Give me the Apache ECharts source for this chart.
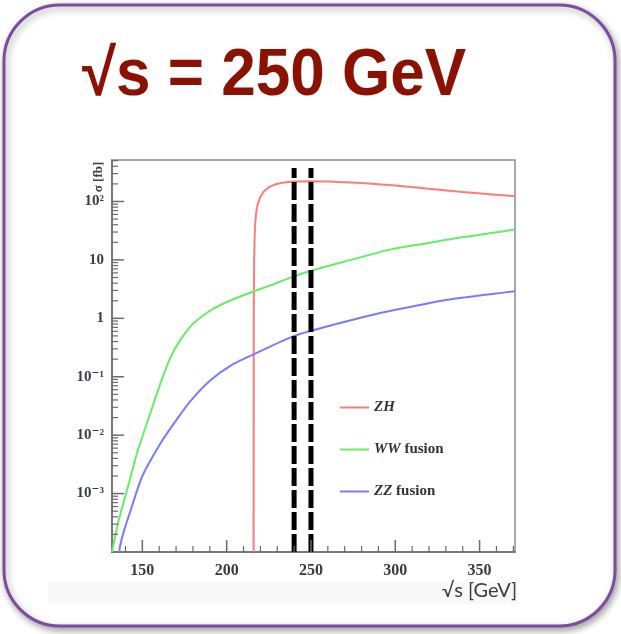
<!DOCTYPE html>
<html><head><meta charset="utf-8">
<script src="https://cdn.jsdelivr.net/npm/echarts@6/dist/echarts.min.js"></script>
<style>html,body{margin:0;padding:0;background:#fff;}#c{width:621px;height:634px;}</style>
</head><body><div id="c"></div>
<script>
// ---- data (sqrt(s) in GeV, sigma in fb) ----
const zhS     = [216.0, 216.05, 216.3, 216.6, 217.0, 217.6, 218.5, 220, 222, 225, 229, 234, 240, 250, 260, 280, 300, 320, 340, 360, 371];
const zhSigma = [0.0001, 1, 10, 25, 45, 68, 92, 120, 148, 175, 198, 212, 220, 222, 220, 207, 188, 165, 145, 130, 123];
const wwS     = [132, 133.2, 136.2, 141.1, 147, 154.9, 160.8, 166.7, 172.6, 178.5, 184.5, 190.4, 196.3, 202.2, 208.1, 215.8, 225.8, 238.7, 249.5, 270, 297, 320, 336.7, 355, 371];
const wwSigma = [0.0001, 0.00015, 0.00037, 0.0012, 0.0051, 0.0245, 0.078, 0.215, 0.428, 0.728, 1.035, 1.36, 1.69, 2.02, 2.36, 2.88, 3.66, 5.08, 6.44, 9.4, 15, 19.5, 23.7, 28.3, 33];
const zzS     = [136.3, 136.8, 139.1, 143.7, 150, 160.8, 169.7, 178.5, 190.4, 202.2, 216, 237.6, 249.5, 273.1, 296.7, 332.2, 371];
const zzSigma = [0.0001, 0.000128, 0.00023, 0.00059, 0.002, 0.0073, 0.0174, 0.0382, 0.087, 0.154, 0.242, 0.467, 0.605, 0.92, 1.33, 2.1, 2.91];
const markS = [240, 250];            // vertical dashed markers
const markSigma = [0.0001, 376];      // vertical extent of the markers
const xMajorTicks = [150, 200, 250, 300, 350];
const xMinorTicks = [140, 160, 170, 180, 190, 210, 220, 230, 240, 260, 270, 280, 290, 310, 320, 330, 340, 360, 370];
const yMajorTicks = [0.001, 0.01, 0.1, 1, 10, 100];
const yTickLabels = ['10⁻³', '10⁻²', '10⁻¹', '1', '10', '10²'];
const yDecades = [0.0001, 0.001, 0.01, 0.1, 1, 10, 100];
const yMultipliers = [2, 3, 4, 5, 6, 7, 8, 9];
const legendNames = ['ZH', 'WW fusion', 'ZZ fusion'];

const XMIN = 132, XMAX = 371, YMIN = 0.0001, YMAX = 513;
const yMinorTicks = [];
yDecades.forEach(d => yMultipliers.forEach(m => { const v = +(d * m).toPrecision(6); if (v <= YMAX) yMinorTicks.push(v); }));
const pairs = (xs, ys) => xs.map((x, i) => [x, ys[i]]);
const yLabelOf = v => { let best = 0, bd = 1e9; yMajorTicks.forEach((t, i) => { const d = Math.abs(Math.log10(v) - Math.log10(t)); if (d < bd) { bd = d; best = i; } }); return bd < 0.01 ? yTickLabels[best] : ''; };

// tick marks: [x, y, length, orientation(0 = on x axis, 1 = on y axis)]
const tickData = [];
xMajorTicks.forEach(v => tickData.push([v, YMIN, 12, 0]));
xMinorTicks.forEach(v => tickData.push([v, YMIN, 6, 0]));
yMajorTicks.forEach(v => tickData.push([XMIN, v, 12, 1]));
yMinorTicks.forEach(v => tickData.push([XMIN, v, 6, 1]));

const axisGray = '#6a6a6a';
const serif = '"Liberation Serif", "DejaVu Serif", serif';

const chart = echarts.init(document.getElementById('c'), null, { renderer: 'canvas' });
chart.setOption({
  animation: false,
  backgroundColor: '#ffffff',
  graphic: [
    { type: 'rect', z: -20, shape: { x: 4, y: 5, width: 611, height: 621, r: 56 },
      style: { fill: '#ffffff', stroke: '#7b4c9f', lineWidth: 3, shadowBlur: 7, shadowColor: 'rgba(0,0,0,0.35)', shadowOffsetX: 2, shadowOffsetY: 3 } },
    { type: 'rect', z: -15, shape: { x: 48, y: 582, width: 470, height: 22 }, style: { fill: '#f8f8f8' } },
    { type: 'text', z: 10, x: 82, y: 77, scaleX: 0.94,
      style: { text: '√s = 250 GeV', font: 'bold 66px "Liberation Sans", Arial, sans-serif', fill: '#8b1203', textAlign: 'left', textVerticalAlign: 'middle' } },
    { type: 'text', z: 10, x: 99, y: 177, rotation: Math.PI / 2,
      style: { text: 'σ [fb]', font: 'bold 13px ' + serif, fill: '#3a3d4a', textAlign: 'center', textVerticalAlign: 'middle' } },
    { type: 'text', z: 10, x: 517, y: 591,
      style: { text: '√s [GeV]', font: '20px Lato, "Open Sans", sans-serif', fill: '#3c3c3c', textAlign: 'right', textVerticalAlign: 'middle' } }
  ],
  grid: { left: 112, right: 106, top: 160, bottom: 82, show: true, borderColor: '#8c8c8c', borderWidth: 1.5, containLabel: false },
  legend: {
    data: legendNames, orient: 'vertical', left: 335, top: 395, itemGap: 27,
    icon: 'rect', itemWidth: 29, itemHeight: 2,
    formatter: n => n === 'ZH' ? '{i|ZH}' : '{i|' + n.split(' ')[0] + '} ' + n.split(' ')[1],
    textStyle: { fontFamily: serif, fontSize: 15, fontWeight: 'bold', color: '#333',
      rich: { i: { fontFamily: serif, fontSize: 15, fontWeight: 'bold', fontStyle: 'italic', color: '#333' } } }
  },
  xAxis: [
    { type: 'value', min: XMIN, max: XMAX, splitLine: { show: false },
      axisLine: { onZero: false, lineStyle: { color: axisGray, width: 1.5 } },
      axisTick: { show: false },
      axisLabel: { customValues: xMajorTicks, margin: 11, fontFamily: serif, fontSize: 16, fontWeight: 'bold', color: '#3a3a3a' } }
  ],
  yAxis: [
    { type: 'log', logBase: 10, min: YMIN, max: YMAX, splitLine: { show: false },
      axisLine: { show: true, onZero: false, lineStyle: { color: axisGray, width: 1.5 } },
      axisTick: { show: false },
      axisLabel: { customValues: yMajorTicks, margin: 8, formatter: v => yLabelOf(v), fontFamily: serif, fontSize: 15, fontWeight: 'bold', color: '#3a3d4a' } }
  ],
  series: [
    { name: 'ticks', type: 'custom', data: tickData, clip: false, silent: true, z: 6,
      renderItem: (params, api) => {
        const p = api.coord([api.value(0), api.value(1)]);
        const len = api.value(2), o = api.value(3);
        return { type: 'line',
          shape: o === 0 ? { x1: p[0], y1: p[1], x2: p[0], y2: p[1] - len } : { x1: p[0], y1: p[1], x2: p[0] + len, y2: p[1] },
          style: { stroke: axisGray, lineWidth: len > 8 ? 1.5 : 1.2 } };
      } },
    { name: 'ZH', type: 'line', data: pairs(zhS, zhSigma), showSymbol: false, color: '#ff7b7b', lineStyle: { width: 2, color: '#ff7b7b' }, z: 3 },
    { name: 'WW fusion', type: 'line', data: pairs(wwS, wwSigma), showSymbol: false, smooth: 0.25, color: '#66ec66', lineStyle: { width: 2, color: '#66ec66' }, z: 3 },
    { name: 'ZZ fusion', type: 'line', data: pairs(zzS, zzSigma), showSymbol: false, smooth: 0.25, color: '#7a7aff', lineStyle: { width: 2, color: '#7a7aff' }, z: 3 },
    { name: 'm1', type: 'line', data: pairs([markS[0], markS[0]], markSigma), showSymbol: false, color: '#000', lineStyle: { width: 5, color: '#000', type: [18, 4] }, z: 5 },
    { name: 'm2', type: 'line', data: pairs([markS[1], markS[1]], markSigma), showSymbol: false, color: '#000', lineStyle: { width: 5, color: '#000', type: [18, 4] }, z: 5 }
  ]
});
</script></body></html>
